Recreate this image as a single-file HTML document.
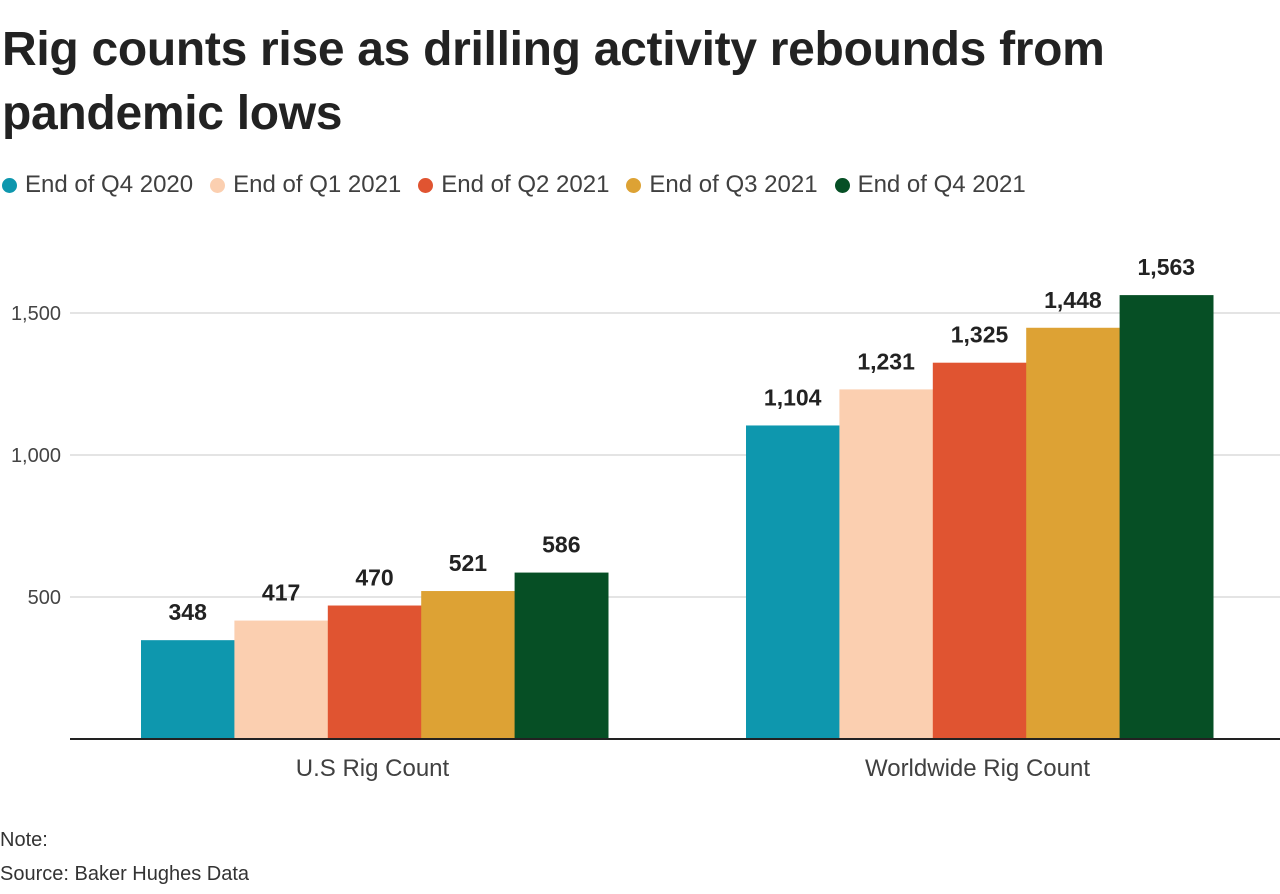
<!DOCTYPE html>
<html><head><meta charset="utf-8"><style>
body{margin:0;width:1280px;height:894px;background:#fff;font-family:"Liberation Sans",sans-serif;overflow:hidden;position:relative}
h1{position:absolute;left:2px;top:18px;margin:0;font-size:48px;line-height:64px;font-weight:bold;color:#222;letter-spacing:-0.3px}
.legend{position:absolute;left:2px;top:171px;font-size:24px;color:#404040;display:flex;gap:17px}
.legend span{display:flex;align-items:center}
.legend i{display:inline-block;width:15px;height:15px;border-radius:50%;margin-right:8px}
.foot{position:absolute;left:0;font-size:20px;color:#333}
</style></head><body>
<h1>Rig counts rise as drilling activity rebounds from<br>pandemic lows</h1>
<div class="legend" id="legend"></div>
<svg id="chart" width="1280" height="894" style="position:absolute;left:0;top:0"></svg>
<div class="foot" style="top:829px">Note:</div>
<div class="foot" style="top:863px">Source: Baker Hughes Data</div>
<script>
const categories=["U.S Rig Count","Worldwide Rig Count"];
const seriesNames=["End of Q4 2020","End of Q1 2021","End of Q2 2021","End of Q3 2021","End of Q4 2021"];
const q4_2020=[348,1104];
const q1_2021=[417,1231];
const q2_2021=[470,1325];
const q3_2021=[521,1448];
const q4_2021=[586,1563];
const yTicks=[500,1000,1500];
const series=[q4_2020,q1_2021,q2_2021,q3_2021,q4_2021];
const colors=["#0e97ae","#fbcfb0","#e05431","#dda234","#064f25"];
const ns="http://www.w3.org/2000/svg";
const svg=document.getElementById('chart');
const y0=739,k=142/500,x0=72,x1=1282;
const y=v=>y0-v*k;
const band=(x1-x0)/categories.length;
const cx=i=>x0+band*(i+0.5);
const bw=93.4;
function mk(t,a){const e=document.createElementNS(ns,t);for(const n in a)e.setAttribute(n,a[n]);svg.appendChild(e);return e;}
yTicks.forEach(t=>{
 const l=mk('line',{x1:70,x2:1280,y1:y(t),y2:y(t),stroke:'#c8c8c8','stroke-width':1});
 
 
 const tx=mk('text',{x:61,y:y(t)+7,'text-anchor':'end','font-size':20,fill:'#444','font-family':'Liberation Sans'});
 tx.textContent=t.toLocaleString('en-US');
 
 
});
categories.forEach((c,i)=>{
 const start=cx(i)-bw*series.length/2;
 series.forEach((s,j)=>{
  const r=mk('rect',{x:start+j*bw,y:y(s[i]),width:bw+0.5,height:s[i]*k,fill:colors[j]});
  
  
  const t=mk('text',{x:start+j*bw+bw/2,y:y(s[i])-20,'text-anchor':'middle','font-size':23,'font-weight':'bold',fill:'#222','font-family':'Liberation Sans'});
  t.textContent=s[i].toLocaleString('en-US');
  
  
 });
 const ct=mk('text',{x:cx(i)-2,y:776,'text-anchor':'middle','font-size':24,fill:'#404040','font-family':'Liberation Sans'});
 ct.textContent=c;
 
 
});
const ax=mk('line',{x1:70,x2:1280,y1:y0,y2:y0,stroke:'#222','stroke-width':2});


const lg=document.getElementById('legend');
seriesNames.forEach((n,j)=>{
 const s=document.createElement('span');
 
 
 s.innerHTML='<i style="background:'+colors[j]+'"></i>'+n;
 lg.appendChild(s);
});
</script>
</body></html>
